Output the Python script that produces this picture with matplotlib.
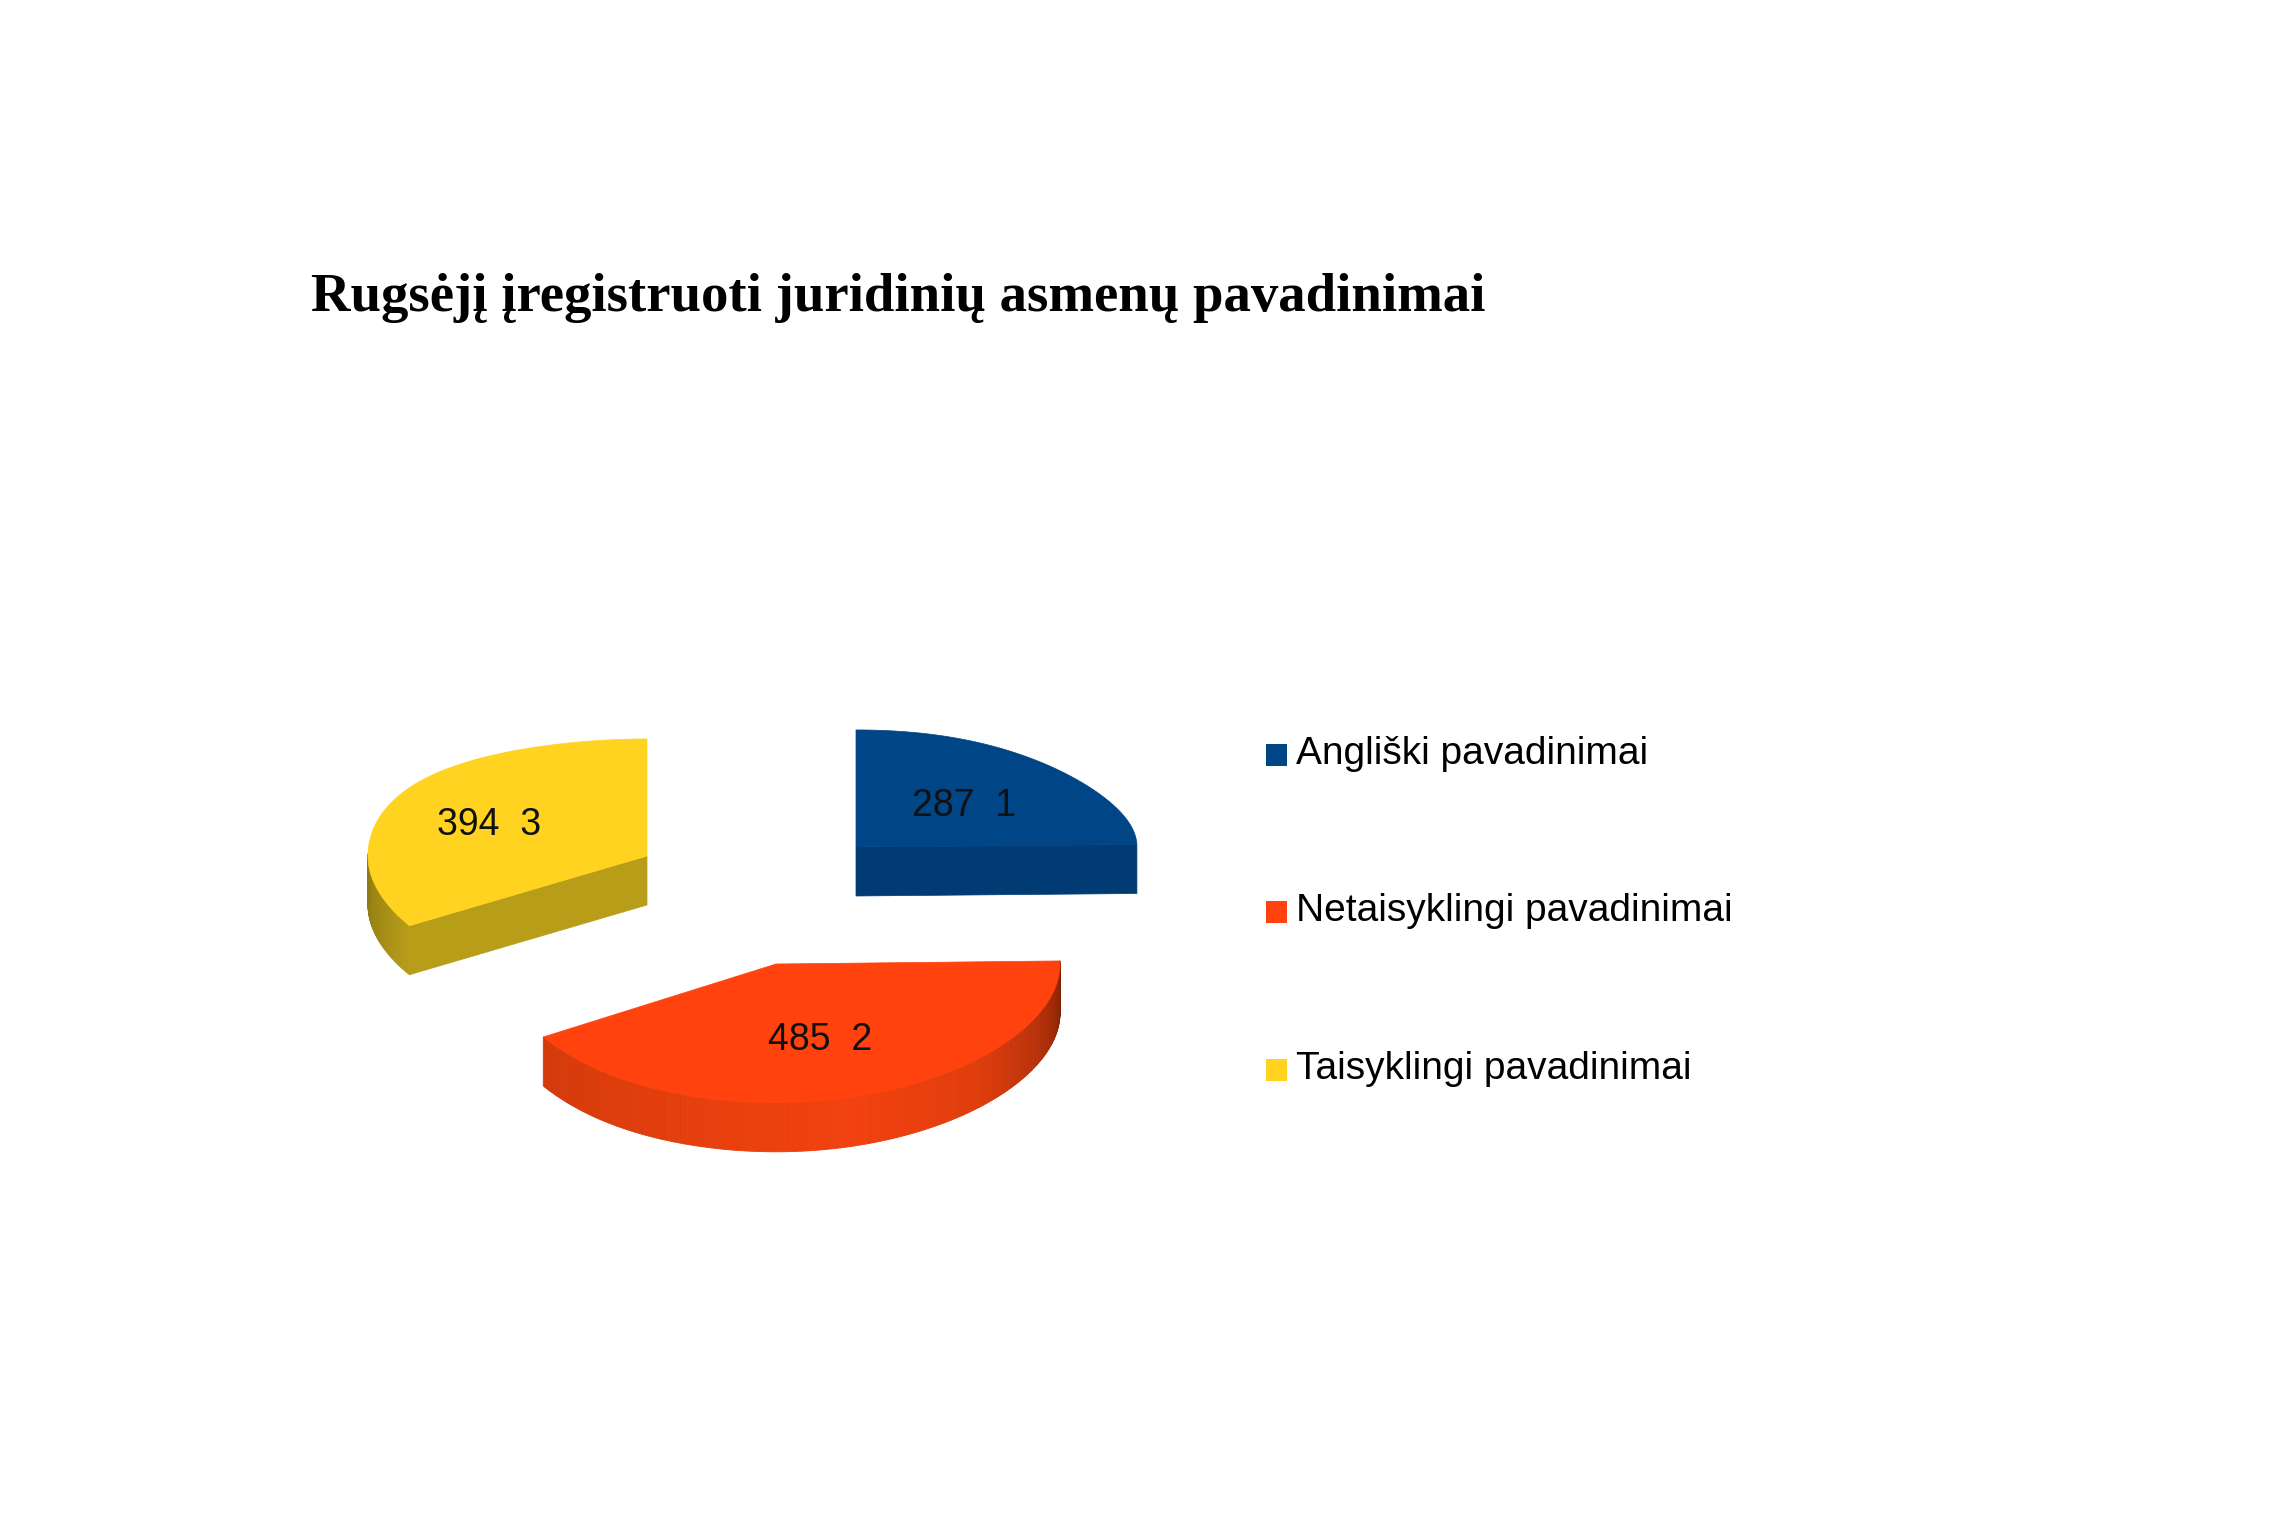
import numpy as np
import matplotlib
matplotlib.use("Agg")
import matplotlib.pyplot as plt
from matplotlib.collections import PolyCollection
from matplotlib.patches import Polygon, Rectangle

# Chart data
categories = ["Angliški pavadinimai", "Netaisyklingi pavadinimai", "Taisyklingi pavadinimai"]
values = [287, 485, 394]
label_numbers = [1, 2, 3]
title = "Rugsėjį įregistruoti juridinių asmenų pavadinimai"

# Series styling
top_colors = ["#004586", "#ff420e", "#ffd320"]
cut_colors = ["#003c73", "#c93408", "#b89d18"]
wall_stops = [
    ([0, 360], ["#003c73", "#003c73"]),
    ([90, 108, 135, 165, 195, 238.5], ["#7f2105", "#ad2e08", "#df3d0c", "#f2410e", "#e63f0d", "#d33a0a"]),
    ([238, 255, 270], ["#b89d18", "#a08915", "#8f7a12"]),
]

# Exploded wedge placement on the pixel grid of the canvas
centers = [(856, 847), (776, 964), (647, 856)]
radii_x = [281, 284, 279]
# Perspective correction of the rim, active only inside one quadrant of each wedge
warp_y = [12, 5, 7]
warp_x = [0, 14, 0]
warp_range = [(0, 90), (180, 270), (270, 360)]
RY, PERSPECTIVE, DEPTH = 127, 0.085, 49
label_radius = [0.55, 0.55, 0.65]
LABEL_DROP = 9


def project(i, theta):
    """Map clockwise-from-north angles on the tilted disc to canvas points."""
    theta = np.asarray(theta, dtype=float)
    t = np.radians(theta)
    depth_axis = np.cos(t)
    lo, hi = warp_range[i]
    bend = np.where((theta >= lo) & (theta <= hi), np.sin(2 * t) * np.sin(t) ** 2, 0.0)
    x = centers[i][0] + radii_x[i] * np.sin(t) + warp_x[i] * bend
    y = centers[i][1] - RY * depth_axis / (1 + PERSPECTIVE * depth_axis) + warp_y[i] * bend
    return x, y


def hex_rgb(color):
    return np.array(matplotlib.colors.to_rgb(color))


fig = plt.figure(figsize=(22.8, 15.2), dpi=100, facecolor="white")
ax = fig.add_axes([0, 0, 1, 1])
ax.set_xlim(0, 2280)
ax.set_ylim(1520, 0)
ax.axis("off")

sweeps = 360 * np.array(values) / np.sum(values)
starts = np.concatenate([[0], np.cumsum(sweeps)[:-1]])

for i in [2, 0, 1]:
    c = centers[i]
    start, sweep = starts[i], sweeps[i]
    theta = np.linspace(start, start + sweep, 240)
    x, y = project(i, theta)

    # Straight cut face that looks toward the viewer
    cut_angle = start + sweep if i == 0 else start
    if i != 1:
        ex, ey = project(i, cut_angle)
        ax.add_patch(Polygon([(c[0], c[1]), (ex, ey), (ex, ey + DEPTH), (c[0], c[1] + DEPTH)],
                             closed=True, fc=cut_colors[i], ec=cut_colors[i], lw=0.5, zorder=2 + i))

    # Curved outer wall, shaded strip by strip
    stops, cols = wall_stops[i]
    rgb = np.array([hex_rgb(k) for k in cols])
    quads, shades = [], []
    for j in range(len(theta) - 1):
        mid = (theta[j] + theta[j + 1]) / 2
        if np.cos(np.radians(mid)) < 0.02:
            quads.append([(x[j], y[j]), (x[j + 1], y[j + 1]),
                          (x[j + 1], y[j + 1] + DEPTH), (x[j], y[j] + DEPTH)])
            shades.append([np.interp(mid, stops, rgb[:, k]) for k in range(3)])
    if quads:
        ax.add_collection(PolyCollection(quads, facecolors=shades, edgecolors=shades,
                                         linewidths=0.6, zorder=2 + i))

    # Top surface of the wedge
    outline = np.column_stack([np.r_[c[0], x], np.r_[c[1], y]])
    ax.add_patch(Polygon(outline, closed=True, fc=top_colors[i], ec=top_colors[i],
                         lw=0.5, zorder=2.5 + i))

    # Value label
    mid_angle = np.radians(start + sweep / 2)
    lx = c[0] + radii_x[i] * label_radius[i] * np.sin(mid_angle)
    ly = c[1] - RY * label_radius[i] * np.cos(mid_angle) + LABEL_DROP
    ax.text(lx, ly, f"{values[i]}  {label_numbers[i]}", ha="center", va="center",
            family="Liberation Sans", fontsize=27, color="#111111", zorder=10)

# Title
ax.text(311, 311, title, family="Liberation Serif", fontweight="bold", fontsize=39.4,
        ha="left", va="baseline", color="black")

# Legend
legend_y = [755, 912, 1070]
for name, col, ly in zip(categories, top_colors, legend_y):
    ax.add_patch(Rectangle((1266, ly - 11), 21, 22, fc=col, ec="none"))
    ax.text(1296, ly + 9, name, family="Liberation Sans", fontsize=28,
            ha="left", va="baseline", color="black")

fig.savefig("out.png", dpi=100, facecolor="white")
